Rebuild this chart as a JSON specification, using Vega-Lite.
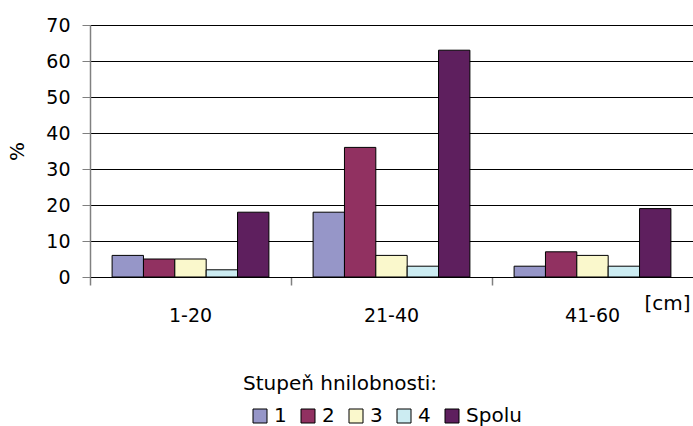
{
  "$schema": "https://vega.github.io/schema/vega-lite/v6.json",
  "autosize": "none",
  "padding": {"left": 90, "top": 25, "right": 0, "bottom": 149},
  "width": 603,
  "height": 252,
  "background": "white",
  "config": {
    "font": "DejaVu Sans",
    "view": {"stroke": null},
    "axis": {"labelFont": "DejaVu Sans", "titleFont": "DejaVu Sans", "labelColor": "#000", "titleColor": "#000", "titleFontWeight": "normal"},
    "legend": {"labelFont": "DejaVu Sans", "titleFont": "DejaVu Sans"}
  },
  "data": {
    "values": [
      {"hlbka": "1-20", "stupen": "1", "pct": 6},
      {"hlbka": "1-20", "stupen": "2", "pct": 5},
      {"hlbka": "1-20", "stupen": "3", "pct": 5},
      {"hlbka": "1-20", "stupen": "4", "pct": 2},
      {"hlbka": "1-20", "stupen": "Spolu", "pct": 18},
      {"hlbka": "21-40", "stupen": "1", "pct": 18},
      {"hlbka": "21-40", "stupen": "2", "pct": 36},
      {"hlbka": "21-40", "stupen": "3", "pct": 6},
      {"hlbka": "21-40", "stupen": "4", "pct": 3},
      {"hlbka": "21-40", "stupen": "Spolu", "pct": 63},
      {"hlbka": "41-60", "stupen": "1", "pct": 3},
      {"hlbka": "41-60", "stupen": "2", "pct": 7},
      {"hlbka": "41-60", "stupen": "3", "pct": 6},
      {"hlbka": "41-60", "stupen": "4", "pct": 3},
      {"hlbka": "41-60", "stupen": "Spolu", "pct": 19}
    ]
  },
  "mark": {"type": "bar", "stroke": "#000", "strokeWidth": 1},
  "encoding": {
    "x": {
      "field": "hlbka", "type": "nominal",
      "scale": {"paddingInner": 0, "paddingOuter": 0},
      "axis": {
        "title": "[cm]", "titleFontSize": 20, "titleX": 577, "titleY": 26, "titleBaseline": "middle", "titleAlign": "center",
        "labelAngle": 0, "labelFontSize": 19, "labelPadding": 21,
        "tickSize": 8, "tickColor": "#808080", "tickWidth": 1.5, "bandPosition": 0,
        "domainColor": "#000", "domainWidth": 1, "grid": false
      }
    },
    "xOffset": {"field": "stupen", "type": "nominal", "scale": {"paddingInner": 0, "paddingOuter": 0.705}},
    "y": {
      "field": "pct", "type": "quantitative",
      "scale": {"domain": [0, 70]},
      "axis": {
        "title": "%", "titleFontSize": 20, "titlePadding": 18,
        "values": [0, 10, 20, 30, 40, 50, 60, 70],
        "labelFontSize": 19, "labelPadding": 12, "tickSize": 8, "tickColor": "#808080", "tickWidth": 1,
        "domainColor": "#808080", "domainWidth": 1.5,
        "grid": true, "gridColor": "#000", "gridWidth": 1
      }
    },
    "color": {
      "field": "stupen", "type": "nominal",
      "scale": {"domain": ["1", "2", "3", "4", "Spolu"], "range": ["#9696C8", "#913161", "#FAF8CC", "#CCECF2", "#5E1F5E"]},
      "legend": {
        "title": "Stupeň hnilobnosti:", "orient": "none", "legendX": 153, "legendY": 349,
        "direction": "horizontal", "padding": 0,
        "titleFontSize": 20, "titleFontWeight": "normal", "titleColor": "#000", "titlePadding": 12, "titleLimit": 400,
        "labelFontSize": 20, "labelColor": "#000", "labelOffset": 4,
        "symbolType": "square", "symbolSize": 196, "symbolStrokeColor": "#000", "symbolStrokeWidth": 1, "symbolOffset": 7,
        "columnPadding": 4
      }
    }
  }
}
